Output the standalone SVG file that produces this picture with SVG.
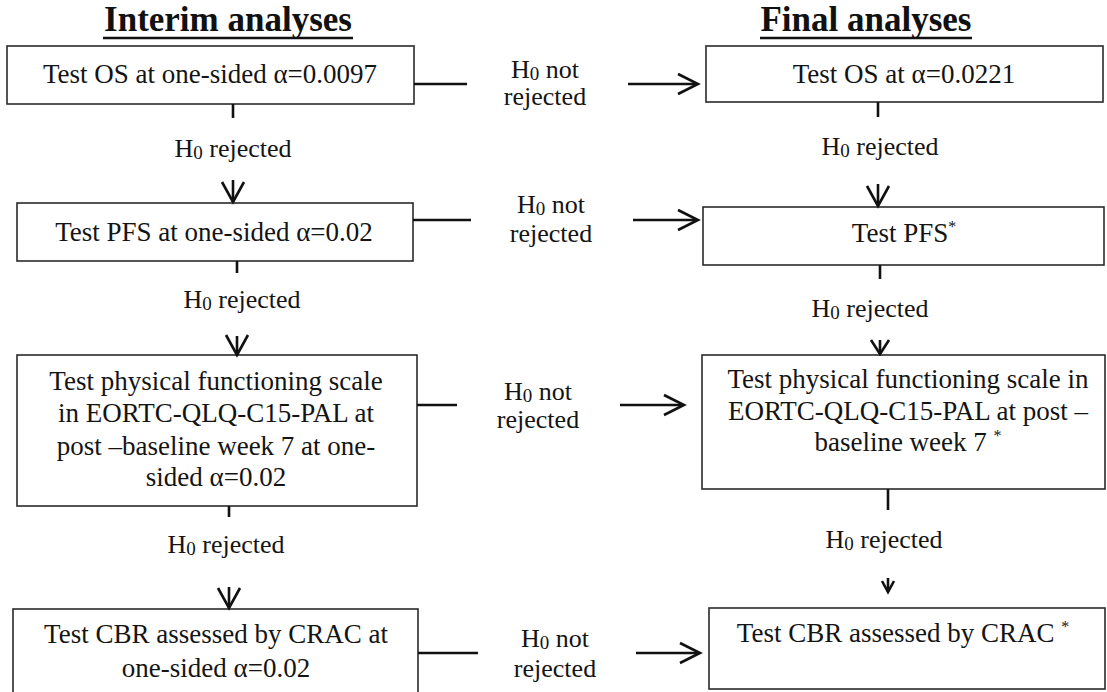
<svg xmlns="http://www.w3.org/2000/svg" width="1107" height="692" viewBox="0 0 1107 692">
  <defs>
    <style>
      .bg { fill: #ffffff; }
      .box { fill: #ffffff; stroke: #2a2a2a; stroke-width: 1.6; }
      .txt { font-family: "Liberation Serif", "Times New Roman", serif; font-size: 27px; fill: #141414; text-anchor: middle; }
      .lbl { font-family: "Liberation Serif", "Times New Roman", serif; font-size: 26px; fill: #141414; text-anchor: middle; }
      .title { font-family: "Liberation Serif", "Times New Roman", serif; font-size: 35px; font-weight: bold; fill: #111111; text-anchor: middle; }
      .uline { stroke: #111111; stroke-width: 2.5; }
      .conn { fill: none; stroke: #111111; stroke-width: 2.6; }
      .head { fill: none; stroke: #111111; stroke-width: 2.6; stroke-linejoin: miter; }
      .sub { font-size: 19px; }
      .sup { font-size: 16px; }
    </style>
  </defs>
  <rect class="bg" x="0" y="0" width="1107" height="692"/>

  <!-- column headings -->
  <g id="title-interim">
    <text class="title" x="228" y="31">Interim analyses</text>
    <line class="uline" x1="103" y1="38" x2="353" y2="38"/>
  </g>
  <g id="title-final">
    <text class="title" x="866" y="31">Final analyses</text>
    <line class="uline" x1="760" y1="38" x2="972" y2="38"/>
  </g>

  <!-- interim column -->
  <g id="i-os">
    <rect class="box" x="7" y="46" width="407" height="58"/>
    <text class="txt" x="210" y="83">Test OS at one-sided α=0.0097</text>
  </g>
  <g id="i-pfs">
    <rect class="box" x="17" y="203" width="396" height="58"/>
    <text class="txt" x="214" y="241">Test PFS at one-sided α=0.02</text>
  </g>
  <g id="i-pf">
    <rect class="box" x="17" y="355" width="400" height="151"/>
    <text class="txt" y="390"><tspan x="216">Test physical functioning scale</tspan><tspan x="216" dy="32">in EORTC-QLQ-C15-PAL at</tspan><tspan x="216" dy="33">post –baseline week 7 at one-</tspan><tspan x="216" dy="31">sided α=0.02</tspan></text>
  </g>
  <g id="i-cbr">
    <rect class="box" x="13" y="609" width="405" height="100"/>
    <text class="txt" y="643"><tspan x="216">Test CBR assessed by CRAC at</tspan><tspan x="216" dy="34">one-sided α=0.02</tspan></text>
  </g>

  <!-- final column -->
  <g id="f-os">
    <rect class="box" x="706" y="46" width="397" height="56"/>
    <text class="txt" x="904" y="83">Test OS at α=0.0221</text>
  </g>
  <g id="f-pfs">
    <rect class="box" x="703" y="207" width="401" height="58"/>
    <text class="txt" x="904" y="242">Test PFS<tspan class="sup" dy="-10">*</tspan></text>
  </g>
  <g id="f-pf">
    <rect class="box" x="702" y="355" width="403" height="134"/>
    <text class="txt" y="388"><tspan x="908">Test physical functioning scale in</tspan><tspan x="908" dy="32">EORTC-QLQ-C15-PAL at post –</tspan><tspan x="908" dy="31">baseline week 7 <tspan class="sup" dy="-10">*</tspan></tspan></text>
  </g>
  <g id="f-cbr">
    <rect class="box" x="709" y="608" width="396" height="81"/>
    <text class="txt" x="903" y="642">Test CBR assessed by CRAC <tspan class="sup" dy="-10">*</tspan></text>
  </g>

  <!-- connectors and their labels -->
  <g id="connectors">
    <!-- interim column: H0 rejected, downwards -->
    <line class="conn" x1="233" y1="104" x2="233" y2="118"/>
    <text class="lbl" x="233" y="157">H<tspan class="sub" dy="2">0</tspan><tspan dy="-2"> rejected</tspan></text>
    <line class="conn" x1="233" y1="180" x2="233" y2="202"/>
    <polyline class="head" points="222,182 233,202 244,182"/>

    <line class="conn" x1="237" y1="261" x2="237" y2="273"/>
    <text class="lbl" x="242" y="308">H<tspan class="sub" dy="2">0</tspan><tspan dy="-2"> rejected</tspan></text>
    <line class="conn" x1="237" y1="336" x2="237" y2="355"/>
    <polyline class="head" points="226,335 237,355 248,335"/>

    <line class="conn" x1="229" y1="506" x2="229" y2="517"/>
    <text class="lbl" x="226" y="553">H<tspan class="sub" dy="2">0</tspan><tspan dy="-2"> rejected</tspan></text>
    <line class="conn" x1="229" y1="587" x2="229" y2="608"/>
    <polyline class="head" points="218,588 229,608 240,588"/>

    <!-- final column: H0 rejected, downwards -->
    <line class="conn" x1="878" y1="102" x2="878" y2="117"/>
    <text class="lbl" x="880" y="155">H<tspan class="sub" dy="2">0</tspan><tspan dy="-2"> rejected</tspan></text>
    <line class="conn" x1="878" y1="184" x2="878" y2="206"/>
    <polyline class="head" points="867,186 878,206 889,186"/>

    <line class="conn" x1="880" y1="265" x2="880" y2="279"/>
    <text class="lbl" x="870" y="317">H<tspan class="sub" dy="2">0</tspan><tspan dy="-2"> rejected</tspan></text>
    <line class="conn" x1="880" y1="340" x2="880" y2="354"/>
    <polyline class="head" points="871,340 880,354 889,340"/>

    <line class="conn" x1="888" y1="489" x2="888" y2="510"/>
    <text class="lbl" x="884" y="548">H<tspan class="sub" dy="2">0</tspan><tspan dy="-2"> rejected</tspan></text>
    <line class="conn" x1="888" y1="578" x2="888" y2="592"/>
    <polyline class="head" points="882,581 888,592 894,581"/>

    <!-- interim to final: H0 not rejected -->
    <line class="conn" x1="414" y1="84" x2="467" y2="84"/>
    <text class="lbl" y="78"><tspan x="545">H<tspan class="sub" dy="2">0</tspan><tspan dy="-2"> not</tspan></tspan><tspan x="545" dy="27">rejected</tspan></text>
    <line class="conn" x1="628" y1="84" x2="697" y2="84"/>
    <polyline class="head" points="678,74 698,84 678,94"/>

    <line class="conn" x1="413" y1="220" x2="471" y2="220"/>
    <text class="lbl" y="213"><tspan x="551">H<tspan class="sub" dy="2">0</tspan><tspan dy="-2"> not</tspan></tspan><tspan x="551" dy="29">rejected</tspan></text>
    <line class="conn" x1="633" y1="220" x2="697" y2="220"/>
    <polyline class="head" points="678,210 698,220 678,230"/>

    <line class="conn" x1="417" y1="405" x2="457" y2="405"/>
    <text class="lbl" y="400"><tspan x="538">H<tspan class="sub" dy="2">0</tspan><tspan dy="-2"> not</tspan></tspan><tspan x="538" dy="28">rejected</tspan></text>
    <line class="conn" x1="620" y1="405" x2="683" y2="405"/>
    <polyline class="head" points="664,395 684,405 664,415"/>

    <line class="conn" x1="418" y1="653" x2="478" y2="653"/>
    <text class="lbl" y="647"><tspan x="555">H<tspan class="sub" dy="2">0</tspan><tspan dy="-2"> not</tspan></tspan><tspan x="555" dy="30">rejected</tspan></text>
    <line class="conn" x1="636" y1="653" x2="699" y2="653"/>
    <polyline class="head" points="680,643 700,653 680,663"/>
  </g>
</svg>
